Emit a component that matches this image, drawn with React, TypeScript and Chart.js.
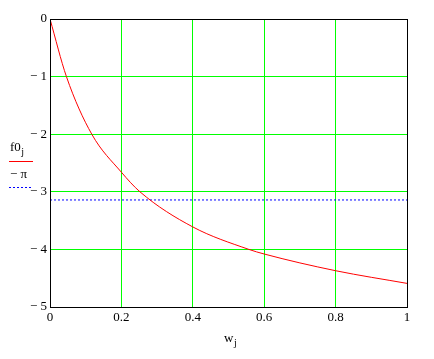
import React, { useEffect, useRef } from "react";
import { Chart, registerables } from "chart.js";

Chart.register(...registerables);

// Points of the red curve f0_j versus w_j
const wValues = [0, 0.046, 0.117, 0.2, 0.252, 0.4, 0.557, 0.6, 0.8, 1.0];
const f0Values = [0, -1.0, -2.0, -2.66, -3.0, -3.61, -4.0, -4.08, -4.37, -4.59];

// Horizontal reference line -π
const refX = [0, 1];
const refY = [-Math.PI, -Math.PI];

// Axes
const xTicks = [0, 0.2, 0.4, 0.6, 0.8, 1];
const yTicks = [0, -1, -2, -3, -4, -5];

const FONT = "'Liberation Serif', 'Times New Roman', serif";

const fmt = (v: number) => (v < 0 ? "\u2212 " + String(Math.abs(v)) : String(v));

const decorPlugin = {
  id: "decor",
  afterDraw(chart: any) {
    const { ctx, chartArea } = chart;
    const { left, top, right, bottom } = chartArea;
    ctx.save();
    // plot frame
    ctx.strokeStyle = "#000";
    ctx.lineWidth = 1;
    const l = Math.round(left) + 0.5;
    const t = Math.round(top) + 0.5;
    const r = Math.round(right) + 0.5;
    const b = Math.round(bottom) + 0.5;
    ctx.strokeRect(l, t, r - l, b - t);

    // legend
    ctx.fillStyle = "#000";
    ctx.textBaseline = "alphabetic";
    ctx.textAlign = "left";
    ctx.font = "13px " + FONT;
    ctx.fillText("f0", 10, 151);
    const fw = ctx.measureText("f0").width;
    ctx.font = "10px " + FONT;
    ctx.fillText("j", 10 + fw + 0.5, 155);

    ctx.fillStyle = "#ff0000";
    ctx.fillRect(9, 161, 24, 1);

    ctx.fillStyle = "#000";
    ctx.font = "13px " + FONT;
    ctx.fillText("\u2212 \u03C0", 10, 178);

    ctx.fillStyle = "#0000ff";
    for (let x = 9; x < 31; x += 4) {
      ctx.fillRect(x, 187, 2, 1);
    }

    // x axis title w_j
    ctx.fillStyle = "#000";
    ctx.font = "13px " + FONT;
    ctx.fillText("w", 224, 342);
    const ww = ctx.measureText("w").width;
    ctx.font = "10px " + FONT;
    ctx.fillText("j", 224 + ww + 0.5, 346);
    ctx.restore();
  },
};

export default function App() {
  const ref = useRef<HTMLCanvasElement | null>(null);

  useEffect(() => {
    if (!ref.current) return;
    const chart = new Chart(ref.current, {
      type: "scatter",
      data: {
        datasets: [
          {
            label: "f0",
            data: wValues.map((w, i) => ({ x: w, y: f0Values[i] })),
            showLine: true,
            borderColor: "#ff0000",
            backgroundColor: "#ff0000",
            borderWidth: 1,
            pointRadius: 0,
            cubicInterpolationMode: "monotone",
          },
          {
            label: "-pi",
            data: refX.map((x, i) => ({ x, y: refY[i] })),
            showLine: true,
            borderColor: "#0000ff",
            backgroundColor: "#0000ff",
            borderWidth: 1,
            borderDash: [2, 2],
            pointRadius: 0,
          },
        ],
      },
      options: {
        responsive: false,
        animation: false,
        events: [],
        layout: { padding: { top: 19, right: 27, left: 0, bottom: 0 } },
        plugins: {
          legend: { display: false },
          tooltip: { enabled: false },
          title: { display: false },
        },
        scales: {
          x: {
            type: "linear",
            min: 0,
            max: 1,
            afterFit: (s: any) => {
              s.height = 52;
            },
            afterBuildTicks: (s: any) => {
              s.ticks = xTicks.map((v) => ({ value: v }));
            },
            ticks: {
              color: "#000",
              font: { family: FONT, size: 13 },
              padding: 3,
              maxRotation: 0,
              autoSkip: false,
              callback: (v: any) => fmt(Number(v)),
            },
            grid: {
              color: "#00ff00",
              lineWidth: 1,
              drawTicks: false,
            },
            border: { color: "#000", width: 1 },
          },
          y: {
            type: "linear",
            min: -5,
            max: 0,
            afterFit: (s: any) => {
              s.width = 50;
            },
            afterBuildTicks: (s: any) => {
              s.ticks = yTicks.map((v) => ({ value: v }));
            },
            ticks: {
              color: "#000",
              font: { family: FONT, size: 13 },
              padding: 3,
              autoSkip: false,
              callback: (v: any) => fmt(Number(v)),
            },
            grid: {
              color: "#00ff00",
              lineWidth: 1,
              drawTicks: false,
            },
            border: { color: "#000", width: 1 },
          },
        },
      },
      plugins: [decorPlugin],
    } as any);
    return () => chart.destroy();
  }, []);

  return (
    <div style={{ position: "fixed", left: 0, top: 0, width: 434, height: 359, background: "#fff" }}>
      <canvas ref={ref} width={434} height={359} style={{ display: "block" }} />
    </div>
  );
}
